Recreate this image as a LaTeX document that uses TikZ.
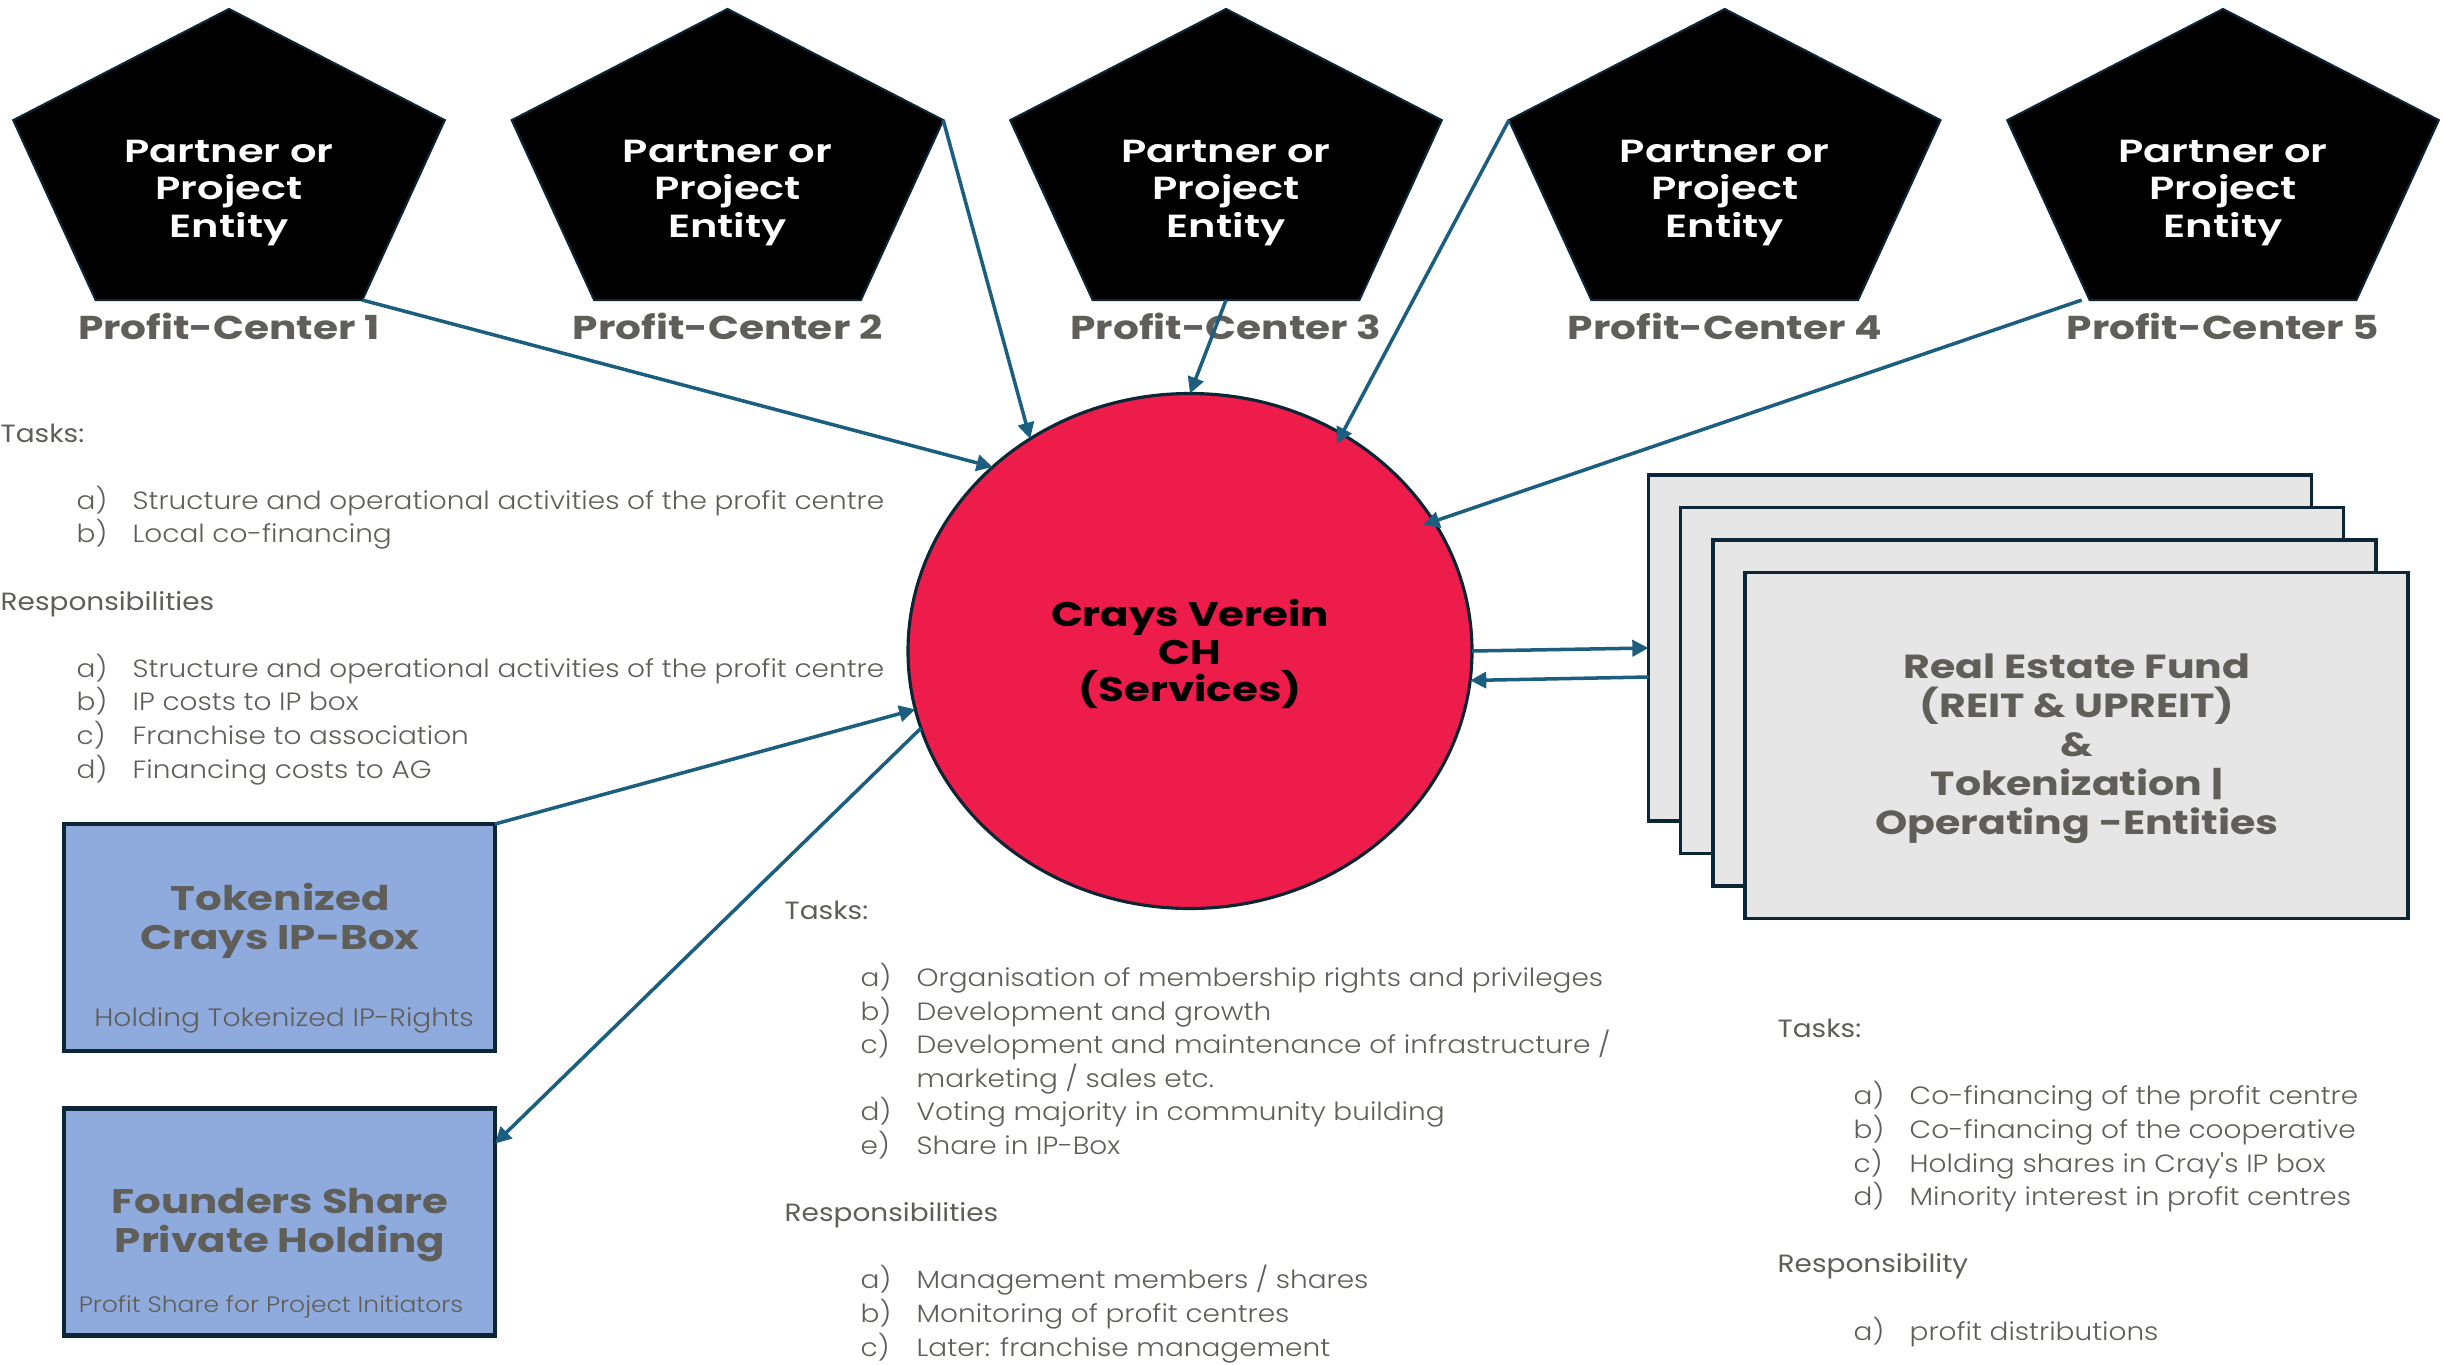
\documentclass[tikz,border=0pt]{standalone}
\usepackage{fontspec}
\setmainfont{Poppins Light}
\newfontfamily\fLight{Poppins Light}[FakeStretch=1.12]
\newfontfamily\fReg{Poppins}[FakeStretch=1.12]
\newfontfamily\fSemi{Poppins SemiBold}[FakeStretch=1.3]
\newfontfamily\fBold{Poppins Bold}[FakeStretch=1.23]
\usetikzlibrary{shapes.geometric,arrows.meta}
\definecolor{txtgray}{HTML}{5F5E59}
\definecolor{navy}{HTML}{0D2636}
\definecolor{arrowblue}{HTML}{1B5E80}
\definecolor{crimson}{HTML}{ED1C4A}
\definecolor{boxgray}{HTML}{E6E6E6}
\definecolor{boxblue}{HTML}{8FAADC}
\newcommand{\myitem}[2]{\hspace*{7.6mm}\makebox[5.6mm][l]{#1}#2}
\tikzset{
  pent/.style={regular polygon, regular polygon sides=5, minimum size=32.18mm, inner sep=0pt, outer sep=0pt, fill=black, draw=navy, line width=0.6pt},
  pentxt/.style={text=white, font=\fSemi\fontsize{9.1pt}{10.8pt}\selectfont, align=center, inner sep=0pt},
  pclabel/.style={text=txtgray, font=\fBold\fontsize{9.4pt}{11pt}\selectfont, anchor=base, inner sep=0pt},
  conn/.style={draw=arrowblue, line width=1pt, -{Triangle[length=4.6pt,width=4.6pt]}},
  fundbox/.style={draw=navy, fill=boxgray, line width=1pt, minimum width=66.3mm, minimum height=34.6mm, inner sep=0pt, outer sep=0pt},
  bluebox/.style={draw=navy, fill=boxblue, line width=1.2pt, minimum width=43.1mm, minimum height=22.7mm, inner sep=0pt, outer sep=0pt},
  body/.style={text=txtgray, font=\fLight\fontsize{7.1pt}{9.56pt}\selectfont, align=left, inner sep=0pt, anchor=base west},
  boxtitle/.style={text=txtgray, font=\fBold\fontsize{9.7pt}{11.1pt}\selectfont, align=center, inner sep=0pt},
}
\begin{document}
\begin{tikzpicture}[x=0.1mm, y=-0.1mm]
\fill[white] (0,0) rectangle (2443,1364);
\useasboundingbox (0,0) rectangle (2443,1364);

% pentagons
\foreach \i/\cx in {1/229, 2/727.5, 3/1226, 4/1724.7, 5/2223}{
  \begin{scope}[shift={(\cx,169.9)}, xscale=1.41]
    \node[pent, transform shape] (p\i) at (0,0) {};
  \end{scope}
  \node[pentxt] (pt\i) at (\cx,193) {Partner or\\Project\\Entity};
  \node[pclabel] (pl\i) at (\cx,339) {Profit-Center \i};
}

% central ellipse
\node[ellipse, draw=navy, fill=crimson, line width=0.9pt, minimum width=56.4mm, minimum height=51.5mm, inner sep=0pt, outer sep=0pt] (cv) at (1190,651) {};
\node[align=center, font=\fBold\fontsize{9.7pt}{10.67pt}\selectfont, text=black, inner sep=0pt] (cvT) at (1190,654) {Crays Verein\\CH\\(Services)};

% fund stack
\node[fundbox] (rf1) at (1980,648) {};
\node[fundbox] (rf2) at (2012.2,680.5) {};
\node[fundbox] (rf3) at (2044.4,713) {};
\node[fundbox] (rf4) at (2076.6,745.5) {};
\node[align=center, text=txtgray, font=\fBold\fontsize{9.5pt}{11.1pt}\selectfont, inner sep=0pt] (rfT) at (2077,749)
  {Real Estate Fund\\(REIT \& UPREIT)\\\&\\Tokenization |\\Operating -Entities};

% blue boxes
\node[bluebox] (tok) at (279.5,937.5) {};
\node[boxtitle] (tokT) at (280,921) {Tokenized\\Crays IP-Box};
\node[text=txtgray, font=\fLight\fontsize{7.15pt}{9pt}\selectfont, inner sep=0pt] (tokS) at (284,1020.5) {Holding Tokenized IP-Rights};
\node[bluebox] (fnd) at (279.5,1222) {};
\node[boxtitle] (fndT) at (280,1225) {Founders Share\\Private Holding};
\node[text=txtgray, font=\fLight\fontsize{6.35pt}{8pt}\selectfont, inner sep=0pt] (fndS) at (271,1306.5) {Profit Share for Project Initiators};

% text blocks
\node[body] (leftTxt) at (0,778) {{\fReg Tasks:}\\[9.56pt]
\myitem{a)}{Structure and operational activities of the profit centre}\\
\myitem{b)}{Local co-financing}\\[9.56pt]
{\fReg Responsibilities}\\[9.56pt]
\myitem{a)}{Structure and operational activities of the profit centre}\\
\myitem{b)}{IP costs to IP box}\\
\myitem{c)}{Franchise to association}\\
\myitem{d)}{Financing costs to AG}};

\node[body] (midTxt) at (784,1356) {{\fReg Tasks:}\\[9.56pt]
\myitem{a)}{Organisation of membership rights and privileges}\\
\myitem{b)}{Development and growth}\\
\myitem{c)}{Development and maintenance of infrastructure /}\\
\hspace*{13.2mm}marketing / sales etc.\\
\myitem{d)}{Voting majority in community building}\\
\myitem{e)}{Share in IP-Box}\\[9.56pt]
{\fReg Responsibilities}\\[9.56pt]
\myitem{a)}{Management members / shares}\\
\myitem{b)}{Monitoring of profit centres}\\
\myitem{c)}{Later: franchise management}};

\node[body] (rightTxt) at (1777,1340) {{\fReg Tasks:}\\[9.56pt]
\myitem{a)}{Co-financing of the profit centre}\\
\myitem{b)}{Co-financing of the cooperative}\\
\myitem{c)}{Holding shares in Cray's IP box}\\
\myitem{d)}{Minority interest in profit centres}\\[9.56pt]
{\fReg Responsibility}\\[9.56pt]
\myitem{a)}{profit distributions}};

% connectors
\draw[conn] (p1.corner 4) -- (cv.137);
\draw[conn] (p2.corner 5) -- (cv.127);
\draw[conn] (p3.south) -- (cv.north);
\draw[conn, shorten >=-1.1mm] (p4.corner 2) -- (cv.55.6);
\draw[conn, shorten >=-1.1mm] ([xshift=-0.8mm]p5.corner 3) -- (cv.28.4);
\draw[conn] (cv.east) -- (rf1.west);
\draw[conn] (rf1.185.7) -- (cv.-6);
\draw[conn] (tok.north east) -- (cv.192.7);
\draw[conn] (cv.196) -- (fnd.20);
\end{tikzpicture}
\end{document}
